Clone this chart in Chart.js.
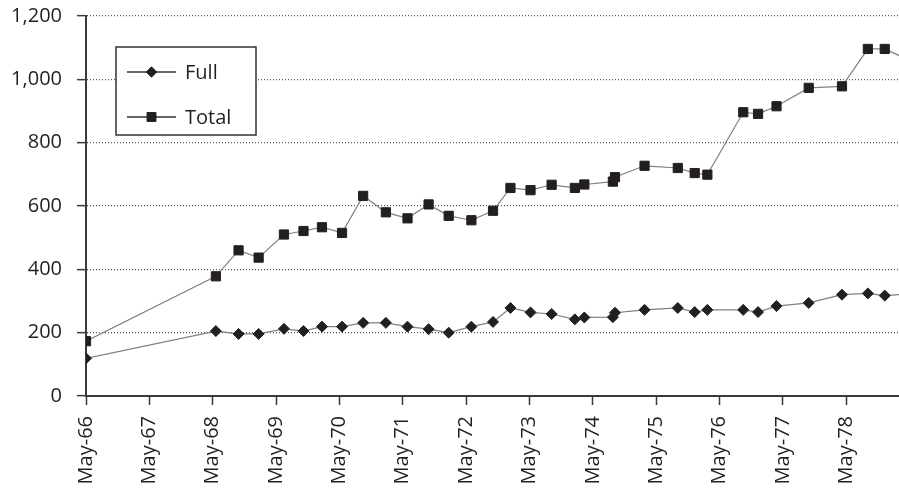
<!DOCTYPE html>
<html>
<head>
<meta charset="utf-8">
<script src="https://cdn.jsdelivr.net/npm/chart.js@4.4.1/dist/chart.umd.min.js"></script>
<style>
  html, body { margin: 0; padding: 0; background: #ffffff; }
  #wrap { position: relative; width: 899px; height: 489px; }
</style>
</head>
<body>
<div id="wrap"><canvas id="chart"></canvas></div>
<script>
// Observation dates, in months counted from May 1966
const monthsSinceMay66 = [0, 24.6, 28.9, 32.7, 37.5, 41.2, 44.7, 48.5, 52.5, 56.8,
  60.9, 64.9, 68.7, 73, 77.1, 80.4, 84.2, 88.2, 92.6, 94.4,
  99.8, 100.2, 105.8, 112.1, 115.3, 117.7, 124.5, 127.3, 130.8, 136.9,
  143.2, 148.1, 151.3, 156];

const totalValues = [173, 378, 460, 437, 510, 521, 533, 515, 632, 580,
  561, 605, 569, 555, 585, 657, 650, 667, 657, 668,
  677, 691, 727, 720, 704, 699, 896, 891, 915, 973,
  978, 1096, 1096, 1060];

const fullValues = [119, 205, 196, 196, 212, 205, 219, 219, 231, 231,
  219, 211, 200, 219, 234, 278, 264, 259, 242, 248,
  249, 263, 272, 278, 265, 272, 272, 265, 284, 294,
  320, 324, 317, 322];

const seriesNames = ['Full', 'Total'];
const tickLabels = ['May-66', 'May-67', 'May-68', 'May-69', 'May-70', 'May-71', 'May-72',
  'May-73', 'May-74', 'May-75', 'May-76', 'May-77', 'May-78'];

const INK = '#231f20';
const FONT = { family: '"Open Sans", "DejaVu Sans", sans-serif', size: 20 };

const toPoints = vals => vals.map((v, i) => ({ x: monthsSinceMay66[i], y: v }));

// Boxed legend sitting inside the plot area
const insetLegend = {
  id: 'insetLegend',
  afterDraw(chart) {
    const ctx = chart.ctx;
    const box = { x: 116, y: 47, w: 140, h: 88 };
    ctx.save();
    ctx.fillStyle = '#ffffff';
    ctx.fillRect(box.x, box.y, box.w, box.h);
    ctx.lineWidth = 1.5;
    ctx.strokeStyle = '#333333';
    ctx.strokeRect(box.x, box.y, box.w, box.h);
    const rows = [72, 117];
    chart.data.datasets.forEach((ds, i) => {
      const y = rows[i];
      ctx.beginPath();
      ctx.lineWidth = 1.3;
      ctx.strokeStyle = '#333333';
      ctx.moveTo(127, y);
      ctx.lineTo(176, y);
      ctx.stroke();
      ctx.fillStyle = INK;
      ctx.strokeStyle = INK;
      ctx.lineWidth = 1;
      Chart.helpers.drawPoint(ctx, {
        pointStyle: ds.pointStyle,
        radius: ds.pointStyle === 'rect' ? 6.3 : 5.2,
        rotation: 0,
        borderWidth: 1
      }, 151.5, y);
      ctx.fillStyle = INK;
      ctx.font = `${FONT.size}px ${FONT.family}`;
      ctx.textBaseline = 'middle';
      ctx.textAlign = 'left';
      ctx.fillText(ds.label, 185, y + 1);
    });
    ctx.restore();
  }
};

new Chart(document.getElementById('chart'), {
  type: 'line',
  data: {
    datasets: [
      {
        label: seriesNames[0],
        data: toPoints(fullValues),
        borderColor: '#808080',
        borderWidth: 1.2,
        pointStyle: 'rectRot',
        pointRadius: 5.5,
        pointBackgroundColor: INK,
        pointBorderColor: INK,
        pointBorderWidth: 1,
        tension: 0
      },
      {
        label: seriesNames[1],
        data: toPoints(totalValues),
        borderColor: '#808080',
        borderWidth: 1.2,
        pointStyle: 'rect',
        pointRadius: 6.5,
        pointBackgroundColor: INK,
        pointBorderColor: INK,
        pointBorderWidth: 1,
        tension: 0
      }
    ]
  },
  options: {
    responsive: true,
    maintainAspectRatio: false,
    animation: false,
    devicePixelRatio: 1,
    layout: { autoPadding: false, padding: { top: 16, right: 0, left: 0, bottom: 0 } },
    plugins: {
      legend: { display: false },
      tooltip: { enabled: false }
    },
    scales: {
      x: {
        type: 'linear',
        min: 0,
        max: 154,
        afterFit(scale) {
          scale.height = 93;
          scale.paddingLeft = 0;
          scale.paddingRight = 0;
        },
        grid: {
          display: true,
          drawOnChartArea: false,
          drawTicks: true,
          tickLength: 9,
          tickColor: '#3a3a3a',
          tickWidth: 1.5
        },
        border: { display: true, color: '#3a3a3a', width: 2 },
        ticks: {
          stepSize: 12,
          includeBounds: false,
          autoSkip: false,
          minRotation: 90,
          maxRotation: 90,
          padding: 11,
          color: INK,
          font: FONT,
          callback: v => tickLabels[Math.round(v / 12)] || ''
        }
      },
      y: {
        type: 'linear',
        min: 0,
        max: 1200,
        afterFit(scale) {
          scale.width = 86;
          scale.paddingTop = 0;
          scale.paddingBottom = 0;
        },
        grid: {
          color: '#555555',
          lineWidth: 1.3,
          drawTicks: true,
          tickLength: 9,
          tickColor: '#3a3a3a',
          tickWidth: 1.5,
          tickBorderDash: []
        },
        border: { display: true, color: '#3a3a3a', width: 2, dash: [1, 2] },
        ticks: {
          stepSize: 200,
          padding: 15,
          color: INK,
          font: FONT,
          callback: v => v.toLocaleString('en-US')
        }
      }
    }
  },
  plugins: [insetLegend]
});
</script>
</body>
</html>
